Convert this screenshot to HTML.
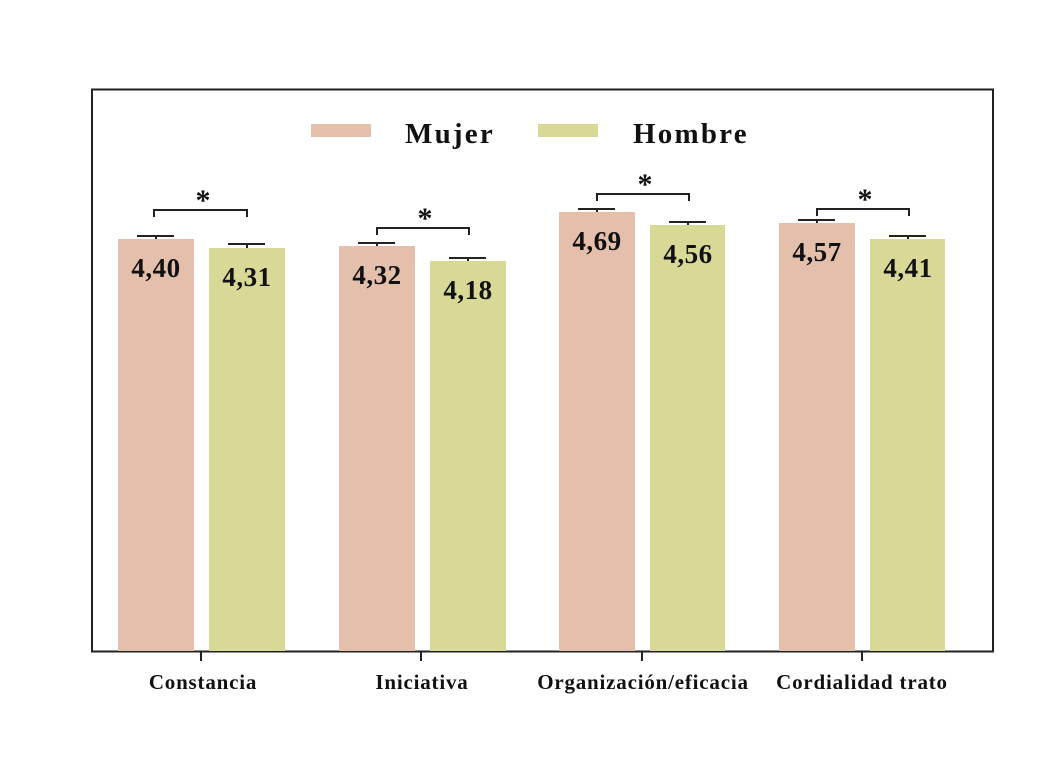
<!DOCTYPE html>
<html><head><meta charset="utf-8"><style>
body{margin:0;background:#fff}
svg{display:block}
text{font-family:"Liberation Serif",serif;font-weight:bold;fill:#111}
</style></head><body>
<svg width="1061" height="783" viewBox="0 0 1061 783" xmlns="http://www.w3.org/2000/svg">
<rect x="92" y="89.5" width="901" height="562" fill="none" stroke="#222" stroke-width="2"/>
<rect x="311" y="124" width="60" height="13" fill="#e4bfab"/>
<text x="405" y="143" font-size="29" letter-spacing="2.2">Mujer</text>
<rect x="538" y="124" width="60" height="13" fill="#d8d897"/>
<text x="633" y="143" font-size="29" letter-spacing="2.2">Hombre</text>
<g fill="#e4bfab">
<rect x="118" y="239" width="76" height="412"/>
<rect x="339" y="246" width="76" height="405"/>
<rect x="559" y="212" width="76" height="439"/>
<rect x="779" y="223" width="76" height="428"/>
</g>
<g fill="#d8d897">
<rect x="209" y="248" width="76" height="403"/>
<rect x="430" y="261" width="76" height="390"/>
<rect x="650" y="225" width="75" height="426"/>
<rect x="870" y="239" width="75" height="412"/>
</g>
<g stroke="#222" stroke-width="2" fill="none">
<path d="M137 236H174M156 236V239"/>
<path d="M228 244H265M247 244V248"/>
<path d="M358 243H395M377 243V246"/>
<path d="M449 258H486M468 258V261"/>
<path d="M578 209H615M597 209V212"/>
<path d="M669 222H706M688 222V225"/>
<path d="M798 220H835M817 220V223"/>
<path d="M889 236H926M908 236V239"/>
<path d="M154 217V210H247V217"/>
<path d="M377 235V228H469V235"/>
<path d="M597 201V194H689V201"/>
<path d="M817 216V209H909V216"/>
<path d="M201 651V661M421 651V661M642 651V661M862 651V661"/>
</g>
<g font-size="30" text-anchor="middle">
<text x="203" y="210">*</text>
<text x="425" y="228">*</text>
<text x="645" y="194">*</text>
<text x="865" y="209">*</text>
</g>
<g font-size="27" text-anchor="middle" letter-spacing="0.5">
<text x="156" y="277">4,40</text>
<text x="247" y="286">4,31</text>
<text x="377" y="284">4,32</text>
<text x="468" y="299">4,18</text>
<text x="597" y="250">4,69</text>
<text x="688" y="263">4,56</text>
<text x="817" y="261">4,57</text>
<text x="908" y="277">4,41</text>
</g>
<g font-size="21" text-anchor="middle" letter-spacing="0.8">
<text x="203" y="689">Constancia</text>
<text x="422" y="689">Iniciativa</text>
<text x="643" y="689">Organización/eficacia</text>
<text x="862" y="689">Cordialidad trato</text>
</g>
</svg>
</body></html>
